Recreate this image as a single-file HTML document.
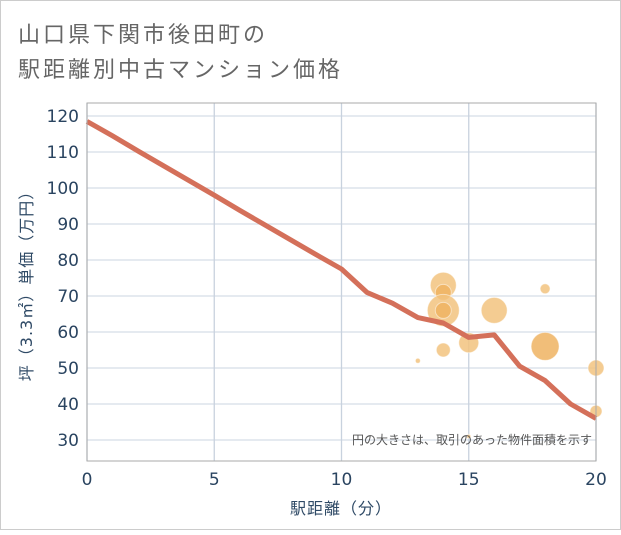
<!DOCTYPE html>
<html><head><meta charset="utf-8"><style>
body{margin:0;background:#fff;}
svg text{font-family:"DejaVu Sans","Liberation Sans","Noto Sans CJK JP",sans-serif;}
</style></head><body>
<svg width="621" height="530" viewBox="0 0 621 530">
<rect x="0.5" y="0.5" width="620" height="529" fill="#fff" stroke="#ccc"/>
<text x="18" y="42" font-size="22" fill="#666" letter-spacing="3">山口県下関市後田町の</text>
<text x="18" y="77" font-size="22" fill="#666" letter-spacing="3">駅距離別中古マンション価格</text>
<g id="grid"></g>
<g id="bubbles"></g>
<g id="line"></g>
<g id="axes"></g>
<text x="592" y="444" font-size="12" fill="#555" text-anchor="end">円の大きさは、取引のあった物件面積を示す</text>
<text x="341" y="514" font-size="16" fill="#2f4a66" text-anchor="middle" letter-spacing="1">駅距離（分）</text>
<text transform="translate(32,282) rotate(-90)" font-size="16" fill="#2f4a66" text-anchor="middle" letter-spacing="1">坪（3.3㎡）単価（万円）</text>
</svg>
<script>
const xTicks=[0,5,10,15,20];
const yTicks=[30,40,50,60,70,80,90,100,110,120];
const lineX=[0,1,2,3,4,5,6,7,8,9,10,11,12,13,14,15,16,17,18,19,20];
const lineY=[118.5,114.5,110.3,106.2,102.1,98,93.8,89.7,85.6,81.5,77.5,71,68,64,62.5,58.5,59.2,50.5,46.5,40,36];
const bubX=[14,14,14,14,13,14,15,16,18,18,20,20,15];
const bubY=[73,71,66,66,52,55,57,66,72,56,50,38,31];
const bubR=[13,8,16,8,2.5,7,10,13,5,14,8,6,2];
const bubDark=[0,1,0,1,0,0,0,0,0,1,0,0,0];
const X0=87,X1=596,Y0=103,Y1=461;
const sx=v=>X0+(v-0)/(20-0)*(X1-X0);
const sy=v=>116+(120-v)*3.6;
const NS="http://www.w3.org/2000/svg";
function mk(t,a,p){const e=document.createElementNS(NS,t);for(const k in a)e.setAttribute(k,a[k]);p.appendChild(e);return e;}
const grid=document.getElementById('grid'),axes=document.getElementById('axes');
yTicks.forEach(v=>{
 const l=mk('line',{x1:X0,x2:X1,y1:sy(v),y2:sy(v),stroke:'#d5dde8','stroke-width':1.3},grid);
 
 
 const t=mk('text',{x:X0-8,y:sy(v)+6,'font-size':17,fill:'#2a4460','text-anchor':'end'},axes);
 t.textContent=v;
 
 
});
xTicks.forEach(v=>{
 const l=mk('line',{x1:sx(v),x2:sx(v),y1:Y0,y2:Y1,stroke:'#c8d2de','stroke-width':1.3},grid);
 
 
 const t=mk('text',{x:sx(v),y:485,'font-size':17,fill:'#2a4460','text-anchor':'middle'},axes);
 t.textContent=v;
 
 
});
const fr=mk('rect',{x:X0,y:Y0,width:X1-X0,height:Y1-Y0,fill:'none',stroke:'#aaa','stroke-width':1},axes);


const bg=document.getElementById('bubbles');
bubX.forEach((v,i)=>{
 const c=mk('circle',{cx:sx(v),cy:sy(bubY[i]),r:bubR[i],fill:bubDark[i]?'#eeb361':'#f2c37f','fill-opacity':0.85,stroke:'#fff','stroke-opacity':0.5},bg);
 
 
});
const pts=lineX.map((v,i)=>sx(v)+','+sy(lineY[i])).join(' ');
const pl=mk('polyline',{points:pts,fill:'none',stroke:'#d4705a','stroke-width':5,'stroke-linejoin':'round'},document.getElementById('line'));


</script>
</body></html>
